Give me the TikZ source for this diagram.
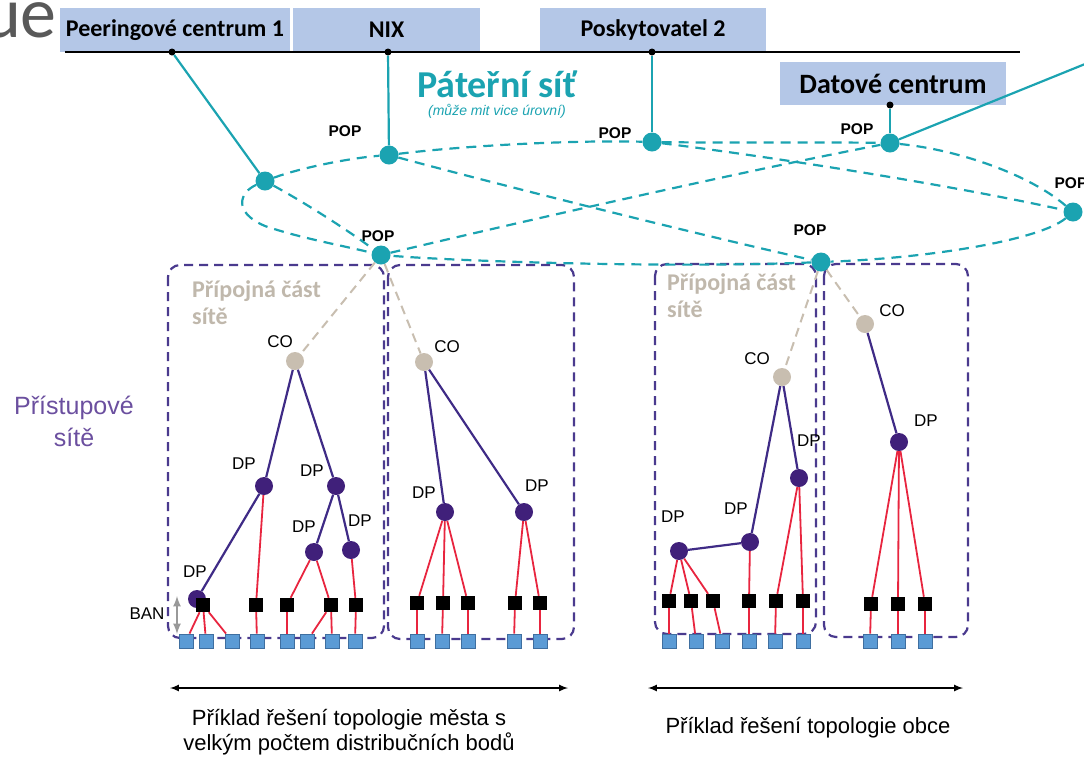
\documentclass[tikz,border=0pt]{standalone}
\usepackage{fontspec}
\setmainfont{Liberation Sans}
\newfontfamily\calib{Carlito}
\usetikzlibrary{positioning}

\definecolor{popteal}{HTML}{1BA3B1}
\definecolor{boxblue}{HTML}{B4C7E7}
\definecolor{areapurple}{HTML}{4A3A8E}
\definecolor{dppurple}{HTML}{40207A}
\definecolor{treepurple}{HTML}{3F2B86}
\definecolor{accesstext}{HTML}{6B4F9F}
\definecolor{redline}{HTML}{E8253F}
\definecolor{cobeige}{HTML}{C8BEB0}
\definecolor{cotext}{HTML}{C0B8AC}
\definecolor{sqblue}{HTML}{5B9BD5}
\definecolor{sqedge}{HTML}{3F6FA0}
\definecolor{titlegray}{HTML}{595959}

\begin{document}
\begin{tikzpicture}[x=1pt,y=-1pt,
    hub/.style={fill=boxblue,minimum height=44pt,inner sep=0pt,font=\calib\bfseries\fontsize{24}{28}\selectfont},
    pop/.style={circle,fill=popteal,inner sep=0pt,minimum size=19pt},
    dot/.style={circle,fill=black,inner sep=0pt,minimum size=7pt},
    co/.style={circle,fill=cobeige,inner sep=0pt,minimum size=18pt},
    dp/.style={circle,fill=dppurple,inner sep=0pt,minimum size=18pt},
    ban/.style={fill=black,inner sep=0pt,minimum size=14pt},
    home/.style={fill=sqblue,draw=sqedge,line width=0.8pt,inner sep=0pt,minimum size=14pt},
    lab/.style={font=\fontsize{17}{20}\selectfont,inner sep=0pt},
    poplab/.style={font=\bfseries\fontsize{15.5}{18}\selectfont,inner sep=0pt},
    uplink/.style={popteal,line width=2.2pt},
    ring/.style={popteal,line width=2.2pt,dash pattern=on 10pt off 7pt},
    feed/.style={cobeige,line width=2pt,dash pattern=on 9pt off 6pt},
    tree/.style={treepurple,line width=2.2pt},
    drop/.style={redline,line width=1.8pt},
    area/.style={areapurple,line width=2.2pt,dash pattern=on 9pt off 6pt,rounded corners=12pt},
    span/.style={latex-latex,line width=2pt}]
  \useasboundingbox (0,0) rectangle (1084,756);

  % top: operators and exchange
  \node[font=\calib\fontsize{72}{72}\selectfont,text=titlegray,anchor=base east,inner sep=0pt] (ttl) at (57,37) {ue};
  \node[hub,minimum width=230pt] (peer) at (175,30) {Peeringové centrum 1};
  \node[hub,minimum width=187pt] (nix)  at (386.5,30) {NIX};
  \node[hub,minimum width=226pt] (posk) at (653,30) {Poskytovatel 2};
  \node[hub,minimum width=226pt,minimum height=43pt,font=\calib\bfseries\fontsize{28}{32}\selectfont] (dc) at (893,83.5) {Datové centrum};
  \coordinate (busL) at (65,52);
  \coordinate (busR) at (1020,52);
  \draw[line width=2pt] (busL) -- (busR);

  \node[font=\calib\bfseries\fontsize{38}{42}\selectfont,text=popteal] (pater) at (497,84) {Páteřní síť};
  \node[font=\itshape\fontsize{14}{16}\selectfont,text=popteal,below=0pt of pater] (paterSub) {(může mit vice úrovní)};

  % access areas
  \draw[area] (168,265) rectangle (384,638);
  \draw[area] (388,265) rectangle (574,639);
  \draw[area] (655,264) rectangle (816,634);
  \draw[area] (824,264) rectangle (968,637);

  % backbone
  \node[dot] (dpeer) at (172,52) {};
  \node[dot] (dnix)  at (388,52) {};
  \node[dot] (dposk) at (652,52) {};
  \node[dot] (ddc)   at (890,105) {};
  \node[pop] (popA) at (265,181) {};
  \node[pop] (popB) at (389,155) {};
  \node[pop] (popC) at (652,142) {};
  \node[pop] (popD) at (890,143) {};
  \node[pop] (popE) at (1073,212) {};
  \node[pop] (popF) at (381,255) {};
  \node[pop] (popG) at (821,262) {};
  \coordinate (edgeR) at (1090,62);
  \node[poplab] (popBl) at (345,131) {POP};
  \node[poplab] (popCl) at (615,133) {POP};
  \node[poplab] (popDl) at (857,129) {POP};
  \node[poplab] (popEl) at (1071,183) {POP};
  \node[poplab] (popFl) at (378,236) {POP};
  \node[poplab] (popGl) at (810,230) {POP};

  \path[uplink]
    (dpeer) edge (popA)
    (dnix)  edge (popB)
    (dposk) edge (popC)
    (ddc)   edge (popD)
    (popD)  edge (edgeR);

  \draw[ring] (popA) .. controls (300,168) and (350,158) .. (popB);
  \draw[ring] (popB) .. controls (470,145) and (580,140) .. (popC);
  \draw[ring] (popC) .. controls (730,143) and (820,142) .. (popD);
  \draw[ring] (popD) .. controls (960,150) and (1030,175) .. (popE);
  \draw[ring] (popE) .. controls (1040,240) and (930,258) .. (popG);
  \draw[ring] (popG) .. controls (680,268) and (470,262) .. (popF);
  \draw[ring] (popA) .. controls (240,192) and (232,212) .. (265,226)
                     .. controls (300,238) and (340,245) .. (popF);
  \draw[ring] (popA) .. controls (300,200) and (345,228) .. (popF);
  \draw[ring] (popF) .. controls (550,215) and (750,170) .. (popD);
  \draw[ring] (popB) .. controls (500,185) and (700,235) .. (popG);
  \draw[ring] (popC) .. controls (780,158) and (950,185) .. (popE);

  % central offices and distribution points
  \node[co] (co1) at (295,361) {};
  \node[co] (co2) at (424,362) {};
  \node[co] (co3) at (782,377) {};
  \node[co] (co4) at (865,324) {};
  \node[lab] (co1l) at (280,342) {CO};
  \node[lab] (co2l) at (447,347) {CO};
  \node[lab] (co3l) at (757,359) {CO};
  \node[lab] (co4l) at (892,311) {CO};

  \node[dp] (dp1)  at (264,486) {};
  \node[dp] (dp2)  at (336,486) {};
  \node[dp] (dp3)  at (314,552) {};
  \node[dp] (dp4)  at (351,550) {};
  \node[dp] (dp5)  at (197,599) {};
  \node[dp] (dp6)  at (445,512) {};
  \node[dp] (dp7)  at (524,512) {};
  \node[dp] (dp8)  at (679,551) {};
  \node[dp] (dp9)  at (750,542) {};
  \node[dp] (dp10) at (799,478) {};
  \node[dp] (dp11) at (899,442) {};
  \node[lab] (dp1l)  at (244,464) {DP};
  \node[lab] (dp2l)  at (312,471) {DP};
  \node[lab] (dp3l)  at (304,527) {DP};
  \node[lab] (dp4l)  at (360,521) {DP};
  \node[lab] (dp5l)  at (195,572) {DP};
  \node[lab] (dp6l)  at (424,493) {DP};
  \node[lab] (dp7l)  at (537,486) {DP};
  \node[lab] (dp8l)  at (673,517) {DP};
  \node[lab] (dp9l)  at (736,509) {DP};
  \node[lab] (dp10l) at (809,441) {DP};
  \node[lab] (dp11l) at (926,421) {DP};

  \path[feed]
    (popF) edge (co1)
    (popF) edge (co2)
    (popG) edge (co3)
    (popG) edge (co4);
  \path[tree]
    (co1) edge (dp1)  (co1) edge (dp2)
    (dp1) edge (dp5)  (dp2) edge (dp3)  (dp2) edge (dp4)
    (co2) edge (dp6)  (co2) edge (dp7)
    (co3) edge (dp9)  (co3) edge (dp10) (dp9) edge (dp8)
    (co4) edge (dp11);

  % buildings and homes
  \node[ban] (b1)  at (203,605) {}; \node[ban] (b2)  at (256,605) {}; \node[ban] (b3) at (287,605) {};
  \node[ban] (b4)  at (331,605) {}; \node[ban] (b5)  at (356,605) {};
  \node[ban] (b6)  at (417,603) {}; \node[ban] (b7)  at (443,603) {}; \node[ban] (b8) at (468,603) {};
  \node[ban] (b9)  at (515,603) {}; \node[ban] (b10) at (540,603) {};
  \node[ban] (b11) at (669,601) {}; \node[ban] (b12) at (691,601) {}; \node[ban] (b13) at (713,601) {};
  \node[ban] (b14) at (749,601) {}; \node[ban] (b15) at (776,601) {}; \node[ban] (b16) at (803,601) {};
  \node[ban] (b17) at (871,604) {}; \node[ban] (b18) at (898,604) {}; \node[ban] (b19) at (925,604) {};

  \node[home] (u1)  at (186,641) {}; \node[home] (u2)  at (206,641) {}; \node[home] (u3) at (232,641) {};
  \node[home] (u4)  at (257,641) {}; \node[home] (u5)  at (287,641) {}; \node[home] (u6) at (307,641) {};
  \node[home] (u7)  at (332,641) {}; \node[home] (u8)  at (355,641) {};
  \node[home] (u9)  at (417,641) {}; \node[home] (u10) at (442,641) {}; \node[home] (u11) at (468,641) {};
  \node[home] (u12) at (514,641) {}; \node[home] (u13) at (540,641) {};
  \node[home] (u14) at (669,641) {}; \node[home] (u15) at (696,641) {}; \node[home] (u16) at (722,641) {};
  \node[home] (u17) at (749,641) {}; \node[home] (u18) at (775,641) {}; \node[home] (u19) at (803,641) {};
  \node[home] (u20) at (870,641) {}; \node[home] (u21) at (898,641) {}; \node[home] (u22) at (925,641) {};

  \path[drop]
    (b1) edge (u1) (b1) edge (u2) (b1) edge (u3)
    (dp1) edge (b2) (b2) edge (u4)
    (dp3) edge (b3) (b3) edge (u5) (dp3) edge (b4) (b4) edge (u6) (b4) edge (u7)
    (dp4) edge (b5) (b5) edge (u8)
    (dp6) edge (b6) (dp6) edge (b7) (dp6) edge (b8)
    (b6) edge (u9) (b7) edge (u10) (b8) edge (u11)
    (dp7) edge (b9) (dp7) edge (b10) (b9) edge (u12) (b10) edge (u13)
    (dp8) edge (b11) (dp8) edge (b12) (dp8) edge (b13)
    (b11) edge (u14) (b12) edge (u15) (b13) edge (u16)
    (dp9) edge (b14) (b14) edge (u17)
    (dp10) edge (b15) (dp10) edge (b16) (b15) edge (u18) (b16) edge (u19)
    (dp11) edge (b17) (dp11) edge (b18) (dp11) edge (b19)
    (b17) edge (u20) (b18) edge (u21) (b19) edge (u22);

  % texts
  \node[align=center,font=\fontsize{25}{32}\selectfont,text=accesstext] (acc) at (74,421) {Přístupové\\sítě};
  \node[align=left,anchor=north west,inner sep=0pt,font=\calib\bfseries\fontsize{24}{27}\selectfont,text=cotext] (feedA) at (192,280) {Přípojná část\\sítě};
  \node[align=left,anchor=north west,inner sep=0pt,font=\calib\bfseries\fontsize{24}{27}\selectfont,text=cotext] (feedB) at (667,273) {Přípojná část\\sítě};
  \node[font=\fontsize{17}{19}\selectfont,inner sep=0pt] (banl) at (147,614) {BAN};
  \coordinate (banT) at (177,596);
  \coordinate (banB) at (177,634);
  \draw[span,gray!80,line width=2.5pt] (banT) -- (banB);

  \coordinate (cityL) at (170,688);
  \coordinate (cityR) at (568,688);
  \coordinate (vilL)  at (648,688);
  \coordinate (vilR)  at (963,688);
  \draw[span] (cityL) -- (cityR);
  \draw[span] (vilL) -- (vilR);
  \node[align=center,font=\fontsize{22}{25}\selectfont] (capCity) at (349,732) {Příklad řešení topologie města s\\velkým počtem distribučních bodů};
  \node[font=\fontsize{22}{25}\selectfont] (capVil) at (808,728) {Příklad řešení topologie obce};
\end{tikzpicture}
\end{document}
